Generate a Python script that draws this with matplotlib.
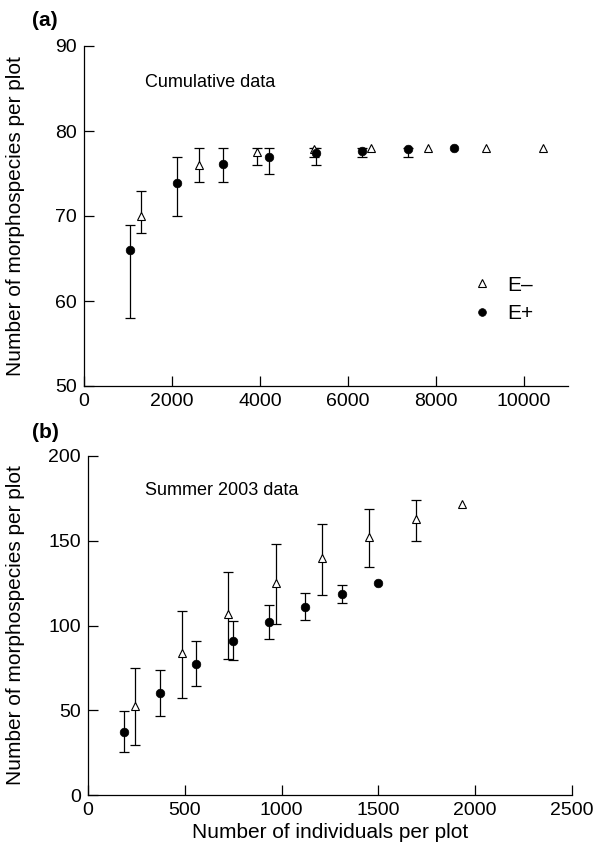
import numpy as np
import matplotlib
matplotlib.use("Agg")
import matplotlib.pyplot as plt

plt.rcParams['font.family'] = ['Liberation Sans', 'DejaVu Sans']

# ---- Panel (a): cumulative data ----
a_em_x = [1294, 2619, 3921, 5223, 6533, 7827, 9130, 10439]
a_em_y = [70.0, 76.0, 77.5, 77.9, 78.0, 78.0, 78.0, 78.0]
a_em_lo = [68.0, 74.0, 76.0, 77.0, np.nan, np.nan, np.nan, np.nan]
a_em_hi = [73.0, 78.0, 78.0, 78.0, np.nan, np.nan, np.nan, np.nan]

a_ep_x = [1052, 2104, 3149, 4209, 5269, 6313, 7366, 8418]
a_ep_y = [66.0, 73.9, 76.1, 76.9, 77.4, 77.7, 77.9, 78.0]
a_ep_lo = [58.0, 70.0, 74.0, 75.0, 76.0, 77.0, 77.0, np.nan]
a_ep_hi = [69.0, 77.0, 78.0, 78.0, 78.0, 78.0, 78.0, np.nan]

# ---- Panel (b): summer 2003 data ----
b_em_x = [241, 483, 724, 969, 1210, 1452, 1693, 1934]
b_em_y = [52.8, 83.7, 106.8, 125.1, 139.7, 152.3, 162.6, 171.6]
b_em_lo = [29.6, 57.5, 80.2, 100.9, 118.2, 134.8, 150.1, np.nan]
b_em_hi = [74.9, 108.8, 131.6, 147.8, 159.6, 168.5, 173.8, np.nan]

b_ep_x = [186, 371, 560, 750, 936, 1122, 1312, 1500]
b_ep_y = [37.4, 60.1, 77.2, 91.0, 102.1, 111.1, 118.6, 124.9]
b_ep_lo = [25.2, 46.7, 64.4, 79.4, 92.0, 103.1, 113.3, np.nan]
b_ep_hi = [49.3, 73.9, 90.6, 102.7, 112.1, 119.0, 123.9, np.nan]

a_xticks = [0, 2000, 4000, 6000, 8000, 10000]
a_yticks = [50, 60, 70, 80, 90]
b_xticks = [0, 500, 1000, 1500, 2000, 2500]
b_yticks = [0, 50, 100, 150, 200]

fig = plt.figure(figsize=(6.06, 8.57), dpi=100)
axa = fig.add_axes([84/606, 1-386/857, 484/606, 340/857])
axb = fig.add_axes([88/606, 1-795/857, 484/606, 339/857])


def draw(ax, emx, emy, emlo, emhi, epx, epy, eplo, ephi):
    for xs, ys, lo, hi in [(emx, emy, emlo, emhi), (epx, epy, eplo, ephi)]:
        xs = np.asarray(xs, float); ys = np.asarray(ys, float)
        lo = np.asarray(lo, float); hi = np.asarray(hi, float)
        m = np.isfinite(lo)
        ax.errorbar(xs[m], ys[m], yerr=[ys[m]-lo[m], hi[m]-ys[m]], fmt='none',
                    ecolor='black', elinewidth=0.9, capsize=3.8, capthick=0.9, zorder=2)
    ax.plot(emx, emy, linestyle='none', marker='^', markersize=6.3, markerfacecolor='white',
            markeredgecolor='black', markeredgewidth=0.8, zorder=3, label='E\u2013')
    ax.plot(epx, epy, linestyle='none', marker='o', markersize=6.2, markerfacecolor='black',
            markeredgecolor='black', markeredgewidth=0.5, zorder=4, label='E+')
    for s in ['top', 'right']:
        ax.spines[s].set_visible(False)
    for s in ['left', 'bottom']:
        ax.spines[s].set_linewidth(0.9)
    ax.tick_params(direction='in', length=7, width=0.9, labelsize=14, pad=5)


draw(axa, a_em_x, a_em_y, a_em_lo, a_em_hi, a_ep_x, a_ep_y, a_ep_lo, a_ep_hi)
draw(axb, b_em_x, b_em_y, b_em_lo, b_em_hi, b_ep_x, b_ep_y, b_ep_lo, b_ep_hi)

axa.set_xlim(0, 11000)
axa.set_ylim(50, 90)
axa.set_xticks(a_xticks)
axa.set_yticks(a_yticks)
axa.set_ylabel('Number of morphospecies per plot', fontsize=15)
axa.yaxis.set_label_coords(-0.122, 0.5)
axa.text(0.126, 0.894, 'Cumulative data', transform=axa.transAxes, fontsize=13,
         va='center', ha='left')
axa.legend(loc='center left', bbox_to_anchor=(0.78, 0.255), frameon=False,
           fontsize=15, handlelength=1.0, handletextpad=0.7, labelspacing=0.45,
           borderpad=0, markerscale=0.9)

axb.set_xlim(0, 2500)
axb.set_ylim(0, 200)
axb.set_xticks(b_xticks)
axb.set_yticks(b_yticks)
axb.set_ylabel('Number of morphospecies per plot', fontsize=15)
axb.yaxis.set_label_coords(-0.130, 0.5)
axb.set_xlabel('Number of individuals per plot', fontsize=15, labelpad=3)
axb.text(0.118, 0.897, 'Summer 2003 data', transform=axb.transAxes, fontsize=13,
         va='center', ha='left')

fig.text(32/606, 1-21/857, '(a)', fontsize=15, fontweight='bold', va='center', ha='left')
fig.text(32/606, 1-432/857, '(b)', fontsize=15, fontweight='bold', va='center', ha='left')

fig.savefig('out.png', dpi=100)
